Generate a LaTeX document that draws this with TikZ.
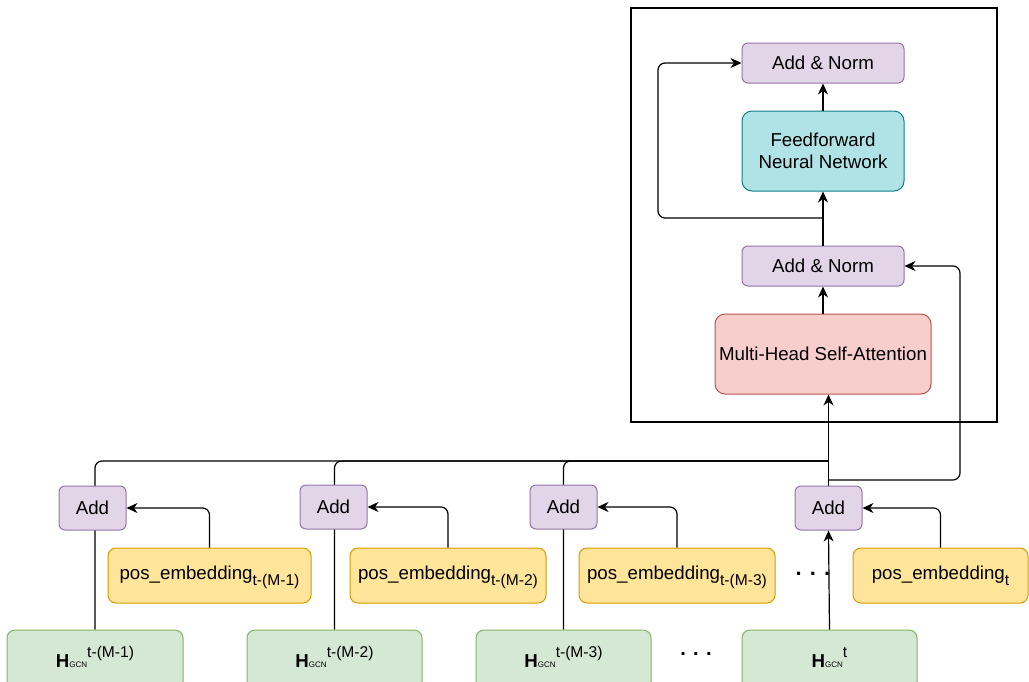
\documentclass[tikz,border=0pt]{standalone}
\usepackage{fontspec}
\setmainfont{Liberation Sans}
\usetikzlibrary{arrows.meta,backgrounds,calc}
\definecolor{purF}{HTML}{E1D5E7}\definecolor{purD}{HTML}{9673A6}
\definecolor{tealF}{HTML}{B0E3E6}\definecolor{tealD}{HTML}{0E8088}
\definecolor{redF}{HTML}{F8CECC}\definecolor{redD}{HTML}{B85450}
\definecolor{yelF}{HTML}{FFE599}\definecolor{yelD}{HTML}{D79B00}
\definecolor{grnF}{HTML}{D5E8D4}\definecolor{grnD}{HTML}{82B366}
\newcommand{\subt}[1]{\raisebox{-6pt}{\fontsize{15.6}{16}\selectfont #1}}
\newcommand{\hgcn}[1]{\textbf{H}{\fontsize{8}{9}\selectfont GCN}\raisebox{10pt}{\fontsize{15.6}{16}\selectfont #1}}
\begin{document}
\begin{tikzpicture}[x=1pt,y=-1pt,
  box/.style={draw, line width=1pt, rounded corners=6pt, inner sep=0pt, font=\fontsize{18.7}{21.6}\selectfont},
  addbox/.style={box, fill=purF, draw=purD, minimum width=67pt, minimum height=44pt},
  normbox/.style={box, fill=purF, draw=purD, minimum width=162pt, minimum height=40pt},
  ffnbox/.style={box, fill=tealF, draw=tealD, minimum width=162pt, minimum height=80pt, rounded corners=10pt, align=center},
  attbox/.style={box, fill=redF, draw=redD, minimum width=216pt, minimum height=80pt, rounded corners=10pt},
  pebox/.style={box, fill=yelF, draw=yelD, minimum height=55pt, rounded corners=8pt, text height=13.5pt, text depth=6.5pt},
  hbox/.style={box, fill=grnF, draw=grnD, minimum height=60pt, rounded corners=8pt, text height=14pt, text depth=0pt},
  frame/.style={draw, line width=1.2pt, inner sep=0pt, minimum width=366pt, minimum height=414pt},
  dots/.style={inner sep=0pt, font=\fontsize{22}{24}\selectfont\bfseries},
  conn/.style={line width=1.2pt, rounded corners=7pt},
  arr/.style={conn, -{Stealth[length=11pt,width=10pt,inset=3.5pt]}}
]
\useasboundingbox (0,0) rectangle (1029,681);
\node[frame] (enc) at (814,215) {};
\node[normbox] (an2) at (823,63) {Add \& Norm};
\node[ffnbox] (ffn) at (823,151) {Feedforward\\Neural Network};
\node[normbox] (an1) at (823,266) {Add \& Norm};
\node[attbox] (mhsa) at (823,354) {Multi-Head Self-Attention};

\node[addbox] (a1) at (92.5,508) {Add};
\node[addbox] (a2) at (333.5,507) {Add};
\node[addbox] (a3) at (563.5,507) {Add};
\node[addbox] (a4) at (828.5,508) {Add};

\node[pebox, minimum width=203pt] (p1) at (209.5,575.5) {pos\_embedding\subt{t-(M-1)}};
\node[pebox, minimum width=196pt] (p2) at (448,575.5) {pos\_embedding\subt{t-(M-2)}};
\node[pebox, minimum width=196pt] (p3) at (677,575.5) {pos\_embedding\subt{t-(M-3)}};
\node[pebox, minimum width=175pt] (p4) at (940.5,575.5) {pos\_embedding\subt{t}};

\node[hbox, minimum width=176pt] (h1) at (95,660) {\hgcn{t-(M-1)}};
\node[hbox, minimum width=175pt] (h2) at (334.5,660) {\hgcn{t-(M-2)}};
\node[hbox, minimum width=175pt] (h3) at (563.5,660) {\hgcn{t-(M-3)}};
\node[hbox, minimum width=175pt] (h4) at (829.5,660) {\hgcn{t}};

\node[dots] (d1) at (813,574) {. . .};
\node[dots, font=\fontsize{20}{22}\selectfont\bfseries] (d2) at (696,654) {. . .};

\coordinate (j) at (828.5,461);
\coordinate (s1) at (828.5,480);
\coordinate (s2) at (823,218);
\coordinate (rx) at (960,0);
\coordinate (lx) at (658,0);

\begin{scope}[on background layer]
\draw[conn] (h1.north) |- (j);
\draw[conn] (h2.north) |- (j);
\draw[conn] (h3.north) |- (j);
\end{scope}
\draw[arr] (h4.north) -- (a4.south);
\draw[arr] (a4.north) -- (a4.north |- mhsa.south);
\draw[arr] (s1) -| (rx |- an1.east) -- (an1.east);
\draw[arr] (mhsa.north) -- (an1.south);
\draw[arr] (an1.north) -- (ffn.south);
\draw[arr] (ffn.north) -- (an2.south);
\draw[arr] (s2) -| (lx |- an2.west) -- (an2.west);
\draw[arr] (p1.north) |- (a1.east);
\draw[arr] (p2.north) |- (a2.east);
\draw[arr] (p3.north) |- (a3.east);
\draw[arr] (p4.north) |- (a4.east);
\end{tikzpicture}
\end{document}
